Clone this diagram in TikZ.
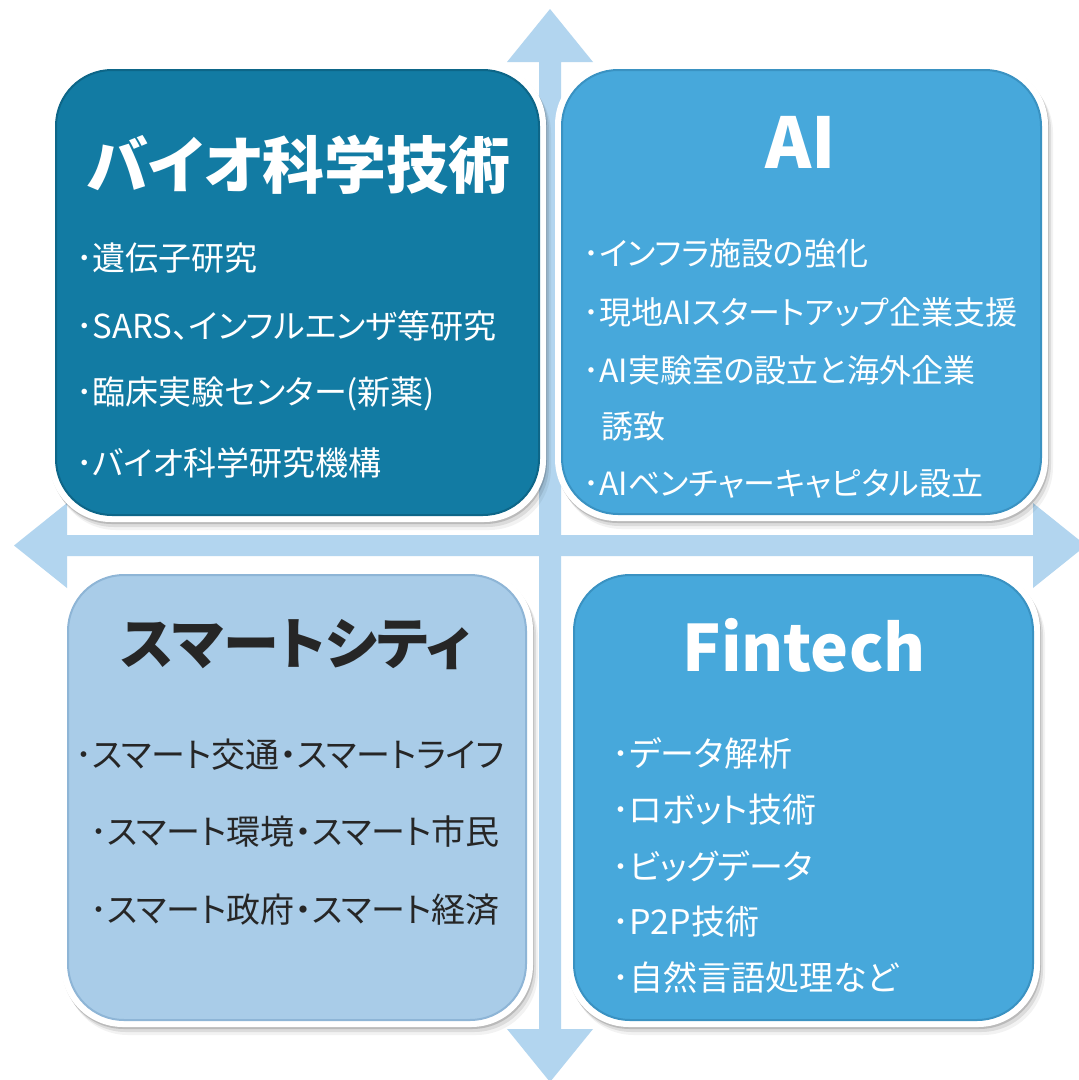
\documentclass[tikz,border=0pt]{standalone}
\usepackage{fontspec}
\usetikzlibrary{shadows}
\newfontfamily\jp[RawFeature=+palt]{Noto Sans CJK JP}
\definecolor{arrowc}{HTML}{B2D5EF}
\definecolor{tlc}{HTML}{127BA3}
\definecolor{tlb}{HTML}{0D6688}
\definecolor{trc}{HTML}{47A8DB}
\definecolor{trb}{HTML}{3A92C2}
\definecolor{blc}{HTML}{A9CCE8}
\definecolor{blb}{HTML}{8EB5D6}
\definecolor{darktext}{HTML}{262626}
\tikzset{
  outerbox/.style={fill=white, rounded corners=62pt, inner sep=0pt, outer sep=0pt,
    drop shadow={shadow xshift=1pt, shadow yshift=-2pt, opacity=.15, fill=black},
    drop shadow={shadow xshift=3pt, shadow yshift=-5pt, opacity=.09, fill=black},
    drop shadow={shadow xshift=5pt, shadow yshift=-8pt, opacity=.05, fill=black}},
  innerbox/.style={rounded corners=56pt, inner sep=0pt, outer sep=0pt, line width=2pt},
  titletxt/.style={font=\jp\bfseries\fontsize{58pt}{64pt}\selectfont, inner sep=0pt},
  itemtxt/.style={anchor=west, inner sep=0pt},
}
\begin{document}
\begin{tikzpicture}[x=1pt, y=-1pt]
\useasboundingbox (0,0) rectangle (1079,1080);
\fill[white] (0,0) rectangle (1079,1080);
% axis arrows
\fill[arrowc] (539,62) -- (507,62) -- (550,9) -- (593,62) -- (561,62) -- (561,1029) -- (593,1029) -- (550,1082) -- (507,1029) -- (539,1029) -- cycle;
\fill[arrowc] (67,535) -- (67,503) -- (14,545.5) -- (67,588) -- (67,556) -- (1033,556) -- (1033,588) -- (1086,545.5) -- (1033,503) -- (1033,535) -- cycle;
% boxes
\node[outerbox, minimum width=497pt, minimum height=459pt] (tlo) at (297.5,292.5) {};
\node[innerbox, fill=tlc, draw=tlb, minimum width=483pt, minimum height=445pt] (tl) at (297.5,292.5) {};
\node[outerbox, minimum width=493pt, minimum height=458pt] (tro) at (801.5,292) {};
\node[innerbox, fill=trc, draw=trb, minimum width=479pt, minimum height=444pt] (tr) at (801.5,292) {};
\node[outerbox, minimum width=472pt, minimum height=459pt] (blo) at (297,797.5) {};
\node[innerbox, fill=blc, draw=blb, minimum width=458pt, minimum height=445pt] (bl) at (297,797.5) {};
\node[outerbox, minimum width=473pt, minimum height=459pt] (bro) at (803.5,797.5) {};
\node[innerbox, fill=trc, draw=trb, minimum width=459pt, minimum height=445pt] (br) at (803.5,797.5) {};
% top-left
\node[titletxt, text=white, font=\jp\bfseries\fontsize{62pt}{68pt}\selectfont] (tlt) at (299,165) {バイオ科学技術};
\begin{scope}[every node/.style={itemtxt, text=white, font=\jp\fontsize{33pt}{39pt}\selectfont}]
\node (tl1) at (76,258) {･遺伝子研究};
\node (tl2) at (76,326) {･SARS、インフルエンザ等研究};
\node (tl3) at (76,394) {･臨床実験センター(新薬)};
\node (tl4) at (76,463) {･バイオ科学研究機構};
\end{scope}
% top-right
\node[titletxt, text=white, font=\jp\bfseries\fontsize{70pt}{76pt}\selectfont] (trt) at (801,142) {AI};
\begin{scope}[every node/.style={itemtxt, text=white, font=\jp\fontsize{32pt}{38pt}\selectfont}]
\node (tr1) at (583,253) {･インフラ施設の強化};
\node (tr2) at (583,312) {･現地AIスタートアップ企業支援};
\node (tr3) at (583,370) {･AI実験室の設立と海外企業};
\node (tr3b) at (601,426) {誘致};
\node (tr4) at (583,483) {･AIベンチャーキャピタル設立};
\end{scope}
% bottom-left
\node[titletxt, text=darktext, font=\jp\bfseries\fontsize{56pt}{62pt}\selectfont] (blt) at (296,645) {スマートシティ};
\begin{scope}[every node/.style={itemtxt, text=darktext, font=\jp\fontsize{34pt}{40pt}\selectfont}]
\node (bl1) at (75,755) {･スマート交通・スマートライフ};
\node (bl2) at (90,832) {･スマート環境・スマート市民};
\node (bl3) at (90,910) {･スマート政府・スマート経済};
\end{scope}
% bottom-right
\node[titletxt, text=white, font=\jp\bfseries\fontsize{64pt}{70pt}\selectfont] (brt) at (804,645) {Fintech};
\begin{scope}[every node/.style={itemtxt, text=white, font=\jp\fontsize{34pt}{40pt}\selectfont}]
\node (br1) at (612,753) {･データ解析};
\node (br2) at (612,810) {･ロボット技術};
\node (br3) at (612,866) {･ビッグデータ};
\node (br4) at (612,922) {･P2P技術};
\node (br5) at (612,977) {･自然言語処理など};
\end{scope}
\end{tikzpicture}
\end{document}
